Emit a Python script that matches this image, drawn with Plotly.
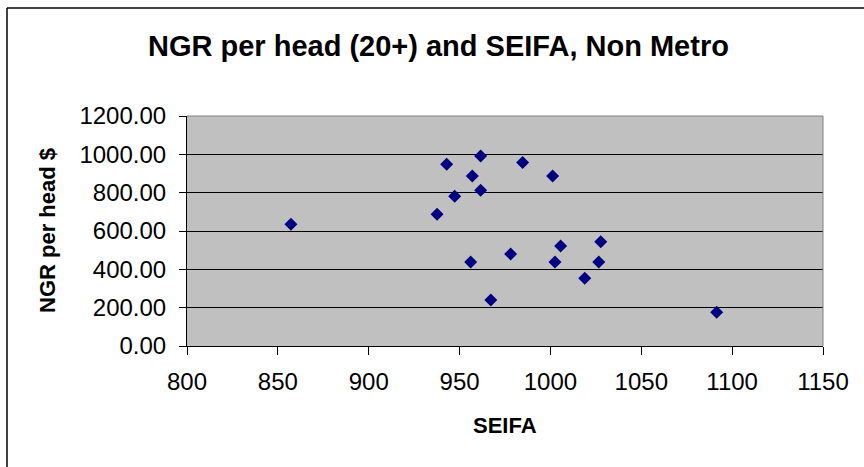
import plotly.graph_objects as go

# SEIFA score and net gaming revenue per adult (20+), non-metropolitan areas
seifa = [857.2, 937.6, 942.9, 947.3, 956.1, 957.0, 961.6, 961.6, 967.2,
         984.7, 1001.2, 978.1, 1005.6, 1002.5, 1027.7, 1026.6, 1018.9, 1091.5]
ngr_per_head = [635, 687, 948, 781, 438, 887, 991, 812, 240,
                958, 887, 480, 522, 438, 544, 438, 353, 176]

x_ticks = [800, 850, 900, 950, 1000, 1050, 1100, 1150]
y_ticks = [0, 200, 400, 600, 800, 1000, 1200]
y_tick_labels = [f"{v:.2f}" for v in y_ticks]

W, H = 864, 467
L, R, T, B = 187, 41, 116, 121
PW, PH = W - L - R, H - T - B
font = "Liberation Sans, Arial, sans-serif"


def px_x(px):
    return (px - L) / PW


def px_y(py):
    return (H - B - py) / PH


fig = go.Figure()
fig.add_trace(go.Scatter(
    x=seifa, y=ngr_per_head, mode="markers",
    marker=dict(symbol="diamond", size=10, color="#000080",
                line=dict(width=0)),
    showlegend=False, hoverinfo="x+y",
))

fig.update_layout(
    width=W, height=H,
    margin=dict(l=L, r=R, t=T, b=B, pad=0),
    paper_bgcolor="white",
    plot_bgcolor="#C0C0C0",
    font=dict(family=font, color="black", size=24),
    xaxis=dict(
        range=[800, 1150], tickvals=x_ticks, ticktext=[str(v) for v in x_ticks],
        showgrid=False, zeroline=False,
        showline=True, linecolor="black", linewidth=1, mirror=False,
        ticks="outside", ticklen=8, tickcolor="black", tickwidth=1,
        ticklabelstandoff=6,
        tickfont=dict(size=24), fixedrange=True,
    ),
    yaxis=dict(
        range=[0, 1200], tickvals=y_ticks, ticktext=y_tick_labels,
        showgrid=True, gridcolor="black", gridwidth=1, zeroline=False,
        showline=True, linecolor="black", linewidth=1, mirror=False,
        ticks="outside", ticklen=7, tickcolor="black", tickwidth=1,
        ticklabelstandoff=8,
        tickfont=dict(size=24), fixedrange=True,
    ),
    shapes=[
        # grey frame on the top and right of the plotting area
        dict(type="line", xref="paper", yref="paper", x0=0, x1=1, y0=1, y1=1,
             line=dict(color="#808080", width=1)),
        dict(type="line", xref="paper", yref="paper", x0=1, x1=1, y0=0, y1=1,
             line=dict(color="#808080", width=1)),
        # chart area border
        dict(type="line", xref="paper", yref="paper",
             x0=px_x(7), x1=px_x(W), y0=px_y(8), y1=px_y(8),
             line=dict(color="black", width=1.5)),
        dict(type="line", xref="paper", yref="paper",
             x0=px_x(7), x1=px_x(7), y0=px_y(H), y1=px_y(8),
             line=dict(color="black", width=1.5)),
    ],
    annotations=[
        dict(text="<b>NGR per head (20+) and SEIFA, Non Metro</b>",
             xref="paper", yref="paper", x=px_x(438), y=px_y(46),
             xanchor="center", yanchor="middle", showarrow=False,
             font=dict(size=29, family=font)),
        dict(text="<b>SEIFA</b>", xref="paper", yref="paper",
             x=0.5, y=px_y(425),
             xanchor="center", yanchor="middle", showarrow=False,
             font=dict(size=22, family=font)),
        dict(text="<b>NGR per head $</b>", xref="paper", yref="paper",
             x=px_x(47), y=0.5, textangle=-90,
             xanchor="center", yanchor="middle", showarrow=False,
             font=dict(size=22, family=font)),
    ],
)

fig.write_html("out.html")
